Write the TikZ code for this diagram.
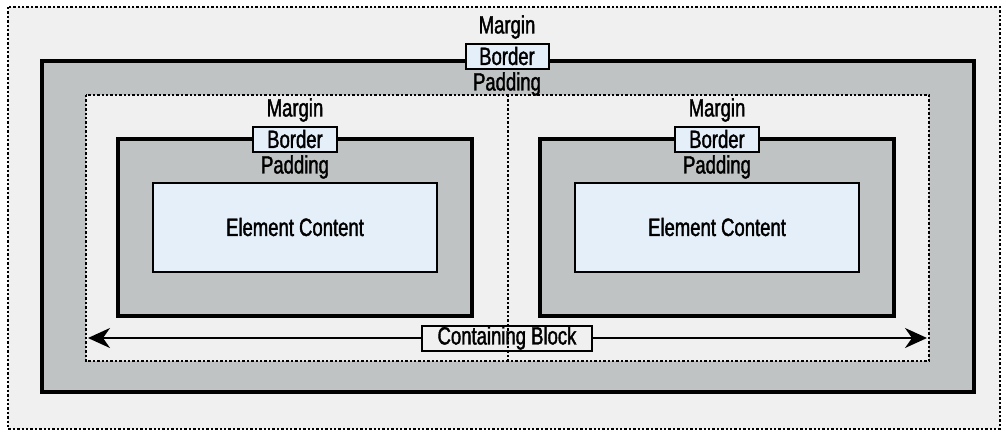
\documentclass[tikz,border=0pt]{standalone}
\usepackage{fontspec}
\setmainfont{Liberation Sans}[FakeStretch=0.74, FakeBold=1.5]
\usetikzlibrary{arrows.meta}
\definecolor{marginbg}{HTML}{F0F0F0}
\definecolor{paddingbg}{HTML}{BFC3C4}
\definecolor{contentbg}{HTML}{E5EFF9}

\begin{document}
\begin{tikzpicture}[x=1pt, y=-1pt,
  dotline/.style={line width=2.6pt, dash pattern=on 2.4pt off 2pt},
  thickbox/.style={line width=4.5pt, fill=paddingbg},
  label/.style={font=\fontsize{25}{27}\selectfont, inner sep=0pt},
  tagbox/.style={label, draw, line width=2pt, minimum height=25pt},
  contentbox/.style={draw, line width=2pt, fill=contentbg}]
  \useasboundingbox (0,0) rectangle (1006,432);
  % Containing element: margin, border, padding
  \draw[dotline, fill=marginbg] (8,7) rectangle (1000,429);
  \draw[thickbox] (42,61) rectangle (974,392);
  \draw[dotline, fill=marginbg] (86,95) rectangle (929,361);
  \node[label] (mtop) at (507,27) {Margin};
  \node[tagbox, fill=contentbg, minimum width=83pt] (btop) at (507,56) {Border};
  \node[label] (ptop) at (507,84) {Padding};
  % Two child elements
  \foreach \cx/\nm in {295/left, 717/right} {
    \draw[thickbox] (\cx-177,139) rectangle (\cx+177,316);
    \draw[contentbox] (\cx-142,183) rectangle (\cx+142,272);
    \node[label] (m\nm) at (\cx,110) {Margin};
    \node[tagbox, fill=contentbg, minimum width=84pt] (b\nm) at (\cx,139) {Border};
    \node[label] (p\nm) at (\cx,167) {Padding};
    \node[label] (c\nm) at (\cx,227) {Element Content};
  }
  % Containing block width
  \coordinate (cbl) at (88,338);
  \coordinate (cbr) at (927,338);
  \draw[line width=2pt, {Stealth[length=22pt, width=20pt, inset=7pt]}-{Stealth[length=22pt, width=20pt, inset=7pt]}] (cbl) -- (cbr);
  \node[tagbox, fill=marginbg, minimum width=170pt] (cb) at (507,338) {Containing Block};
  \draw[dotline] (508,95) -- (508,361);
\end{tikzpicture}
\end{document}
